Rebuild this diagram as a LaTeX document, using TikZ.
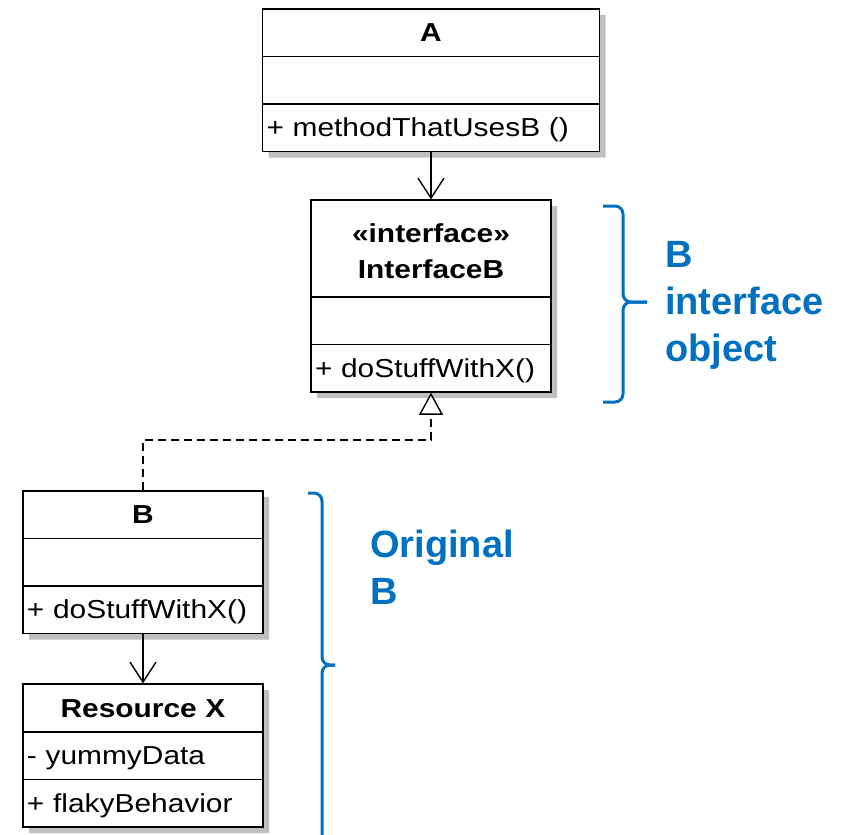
\documentclass[tikz,border=0pt]{standalone}
\usepackage{fontspec}
\usepackage{xcolor}
\usetikzlibrary{shapes,shapes.multipart,arrows.meta,positioning,calc,shadows}
\newfontfamily\umlfont[FakeStretch=1.15]{Liberation Sans}
\newfontfamily\notefont{Liberation Sans}
\definecolor{noteblue}{HTML}{0070C0}
\newcommand{\rowstrut}{\rule[-14pt]{0pt}{46pt}}
\newcommand{\headline}[1]{\makebox[\linewidth]{\bfseries #1}}

\begin{document}
\begin{tikzpicture}[
    x=1pt, y=-1pt,
    font=\umlfont\fontsize{26}{36}\selectfont,
    umlclass/.style={rectangle split, rectangle split parts=3, draw, line width=1.6pt, fill=white,
        inner xsep=4pt, inner ysep=0pt, align=left, text width=232pt,
        drop shadow={shadow xshift=6pt, shadow yshift=-6pt, fill=black!25, opacity=1}},
    dep/.style={-{Straight Barb[length=20pt,width=26pt]}, line width=1.4pt},
    realize/.style={-{Triangle[open,length=22pt,width=24pt,fill=white]}, line width=1.4pt, dash pattern=on 8pt off 5pt},
    note/.style={anchor=north west, inner sep=0pt, align=left, text=noteblue, font=\notefont\bfseries\fontsize{38}{47}\selectfont},
    bracket/.style={draw=noteblue, line width=3pt, rounded corners=8pt}
]
    \useasboundingbox (0,0) rectangle (844,835);

    \node[umlclass, text width=329pt, anchor=north] (A) at (431,8)
        {\headline{A}\rowstrut
         \nodepart{two}\rowstrut
         \nodepart{three}+ methodThatUsesB ()\rowstrut};

    \node[umlclass, below=47pt of A] (IB)
        {\rule{0pt}{41pt}\headline{«interface»}\\\headline{InterfaceB}\rule[-18pt]{0pt}{18pt}
         \nodepart{two}\rowstrut
         \nodepart{three}+ doStuffWithX()\rowstrut};

    \node[umlclass, anchor=north] (B) at (143,490)
        {\headline{B}\rowstrut
         \nodepart{two}\rowstrut
         \nodepart{three}+ doStuffWithX()\rowstrut};

    \node[umlclass, below=49pt of B] (RX)
        {\headline{Resource X}\rowstrut
         \nodepart{two}- yummyData\rowstrut
         \nodepart{three}+ flakyBehavior\rowstrut};

    \draw[dep] (A) -- (IB);
    \draw[dep] (B) -- (RX);
    \draw[realize] (B.north) -- ++(0,-50) -| (IB.south);

    % Braces
    \draw[bracket] (603,206) -| (623,302) -- (647,302);
    \draw[bracket] (603,402) -| (623,302) -- (647,302);
    \node[note] (ibnote) at (665,241) {B\\interface\\object};

    \draw[bracket] (308,493) -| (322,665) -- (335,665);
    \draw[bracket] (322,845) -- (322,665) -- (335,665);
    \node[note] (bnote) at (370,530) {Original\\B};
\end{tikzpicture}
\end{document}
